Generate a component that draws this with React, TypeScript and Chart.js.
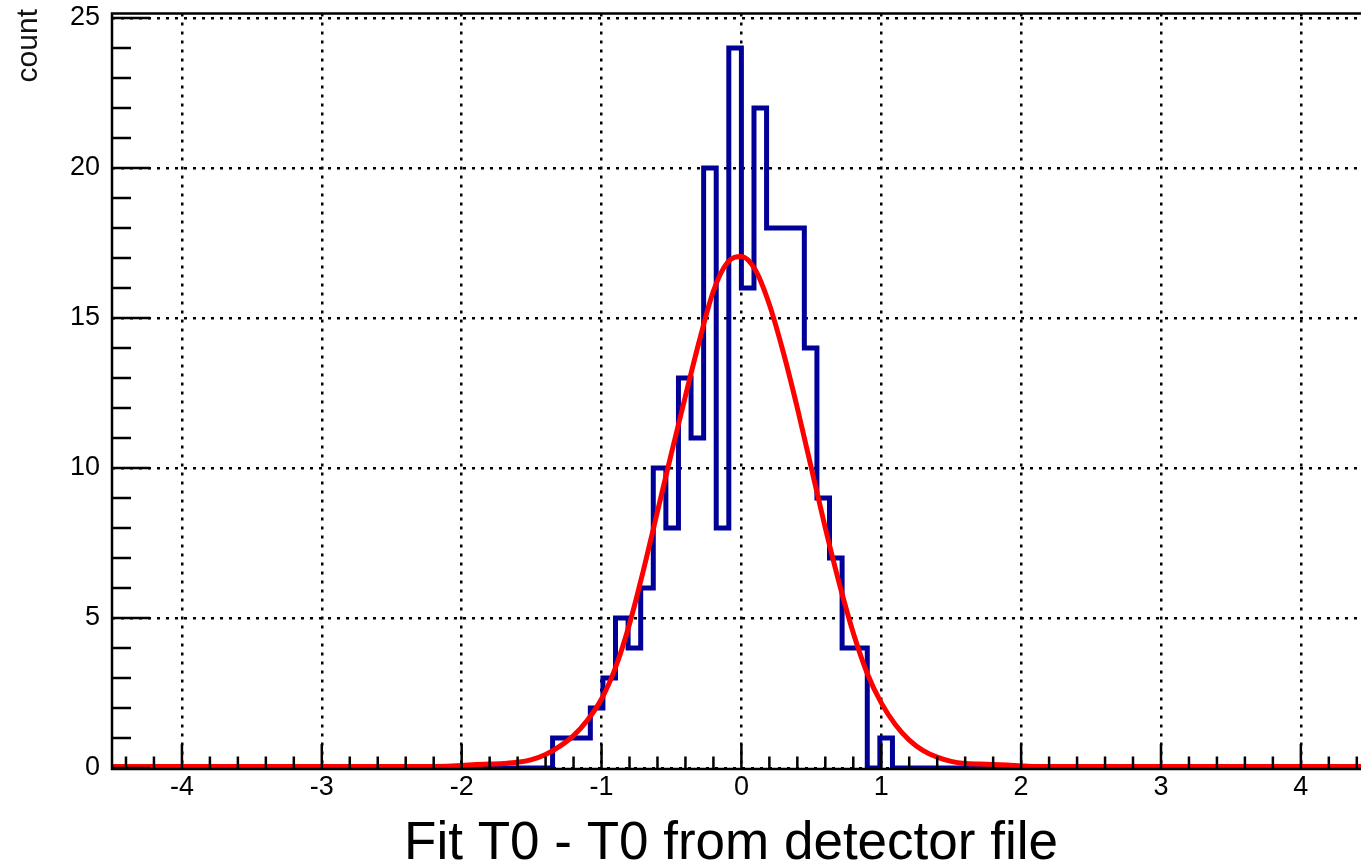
import React, { useEffect, useRef } from "react";
import { Chart, registerables } from "chart.js";

Chart.register(...registerables);

const FONT = "'Liberation Sans', Arial, Helvetica, sans-serif";

// Histogram: 100 bins on [-4.5, 4.5]; non-empty region starts at bin 34
const histMin = -4.5;
const histMax = 4.5;
const binCount = 100;
const firstFilledBin = 34;
const binCounts = [0, 1, 1, 1, 2, 3, 5, 4, 6, 10, 8, 13, 11, 20, 8, 24, 16, 22, 18, 18, 18, 14, 9, 7, 4, 4, 0, 1, 0];

// Gaussian fit curve
const fitX = [-4.5, -2.2, -2.0, -1.9, -1.8, -1.7, -1.6, -1.5, -1.4, -1.3, -1.2, -1.1, -1.0, -0.9, -0.8, -0.7, -0.6, -0.5, -0.4, -0.3, -0.2, -0.1, 0.0, 0.1, 0.2, 0.3, 0.4, 0.5, 0.6, 0.7, 0.8, 0.9, 1.0, 1.1, 1.2, 1.3, 1.4, 1.5, 1.6, 1.7, 1.8, 1.9, 2.0, 2.1, 4.5];
const fitY = [0.05, 0.05, 0.08, 0.12, 0.13, 0.15, 0.19, 0.28, 0.45, 0.72, 1.08, 1.6, 2.3, 3.35, 4.8, 6.6, 8.55, 10.5, 12.4, 14.25, 15.9, 16.85, 17.05, 16.6, 15.45, 13.85, 12.0, 10.0, 8.0, 6.15, 4.5, 3.15, 2.17, 1.45, 0.93, 0.58, 0.36, 0.22, 0.15, 0.13, 0.12, 0.1, 0.07, 0.05, 0.05];

const xTickValues = [-4, -3, -2, -1, 0, 1, 2, 3, 4];
const yTickValues = [0, 5, 10, 15, 20, 25];
const xTitle = "Fit T0 - T0 from detector file";
const yTitle = "count";

function histogramPoints() {
  const w = (histMax - histMin) / binCount;
  const pts: { x: number; y: number }[] = [];
  for (let k = 0; k < binCount; k++) {
    const idx = k - firstFilledBin;
    const c = idx >= 0 && idx < binCounts.length ? binCounts[idx] : 0;
    const lo = histMin + k * w;
    pts.push({ x: lo, y: c }, { x: lo + w, y: c });
  }
  return pts;
}

const rootStylePlugin = {
  id: "rootStyle",
  afterDatasetsDraw(chart: any) {
    const { ctx, chartArea: a, scales } = chart;
    const xs = scales.x;
    const ys = scales.y;
    const base = a.bottom + 1;
    ctx.save();
    ctx.setLineDash([]);
    ctx.strokeStyle = "#000";
    ctx.lineCap = "butt";
    ctx.lineWidth = 2.5;
    // frame (left, top, bottom)
    ctx.beginPath();
    ctx.moveTo(a.left, base + 1.25);
    ctx.lineTo(a.left, a.top);
    ctx.moveTo(a.left - 1.25, a.top);
    ctx.lineTo(a.right + 10, a.top);
    ctx.moveTo(a.left - 1.25, base);
    ctx.lineTo(a.right + 10, base);
    ctx.stroke();
    // x ticks (inside, pointing up)
    ctx.beginPath();
    for (let i = -22; i <= 22; i++) {
      const v = i / 5;
      const px = xs.getPixelForValue(v);
      if (px < a.left || px > a.right) continue;
      const len = i % 5 === 0 ? 25 : 12.5;
      ctx.moveTo(px, base);
      ctx.lineTo(px, base - len);
    }
    ctx.stroke();
    // y ticks (inside, pointing right)
    ctx.beginPath();
    for (let i = 0; i <= 25; i++) {
      const py = ys.getPixelForValue(i);
      const len = i % 5 === 0 ? 38 : 19;
      ctx.moveTo(a.left, py);
      ctx.lineTo(a.left + len, py);
    }
    ctx.stroke();
    // titles
    ctx.fillStyle = "#000";
    ctx.font = `53px ${FONT}`;
    ctx.textAlign = "center";
    ctx.textBaseline = "alphabetic";
    ctx.fillText(xTitle, 731, 859);
    ctx.translate(37, 9);
    ctx.rotate(-Math.PI / 2);
    ctx.font = `30px ${FONT}`;
    ctx.fillStyle = "#111";
    ctx.textAlign = "right";
    ctx.fillText(yTitle, 0, 0);
    ctx.restore();
  },
};

export default function App() {
  const ref = useRef<HTMLCanvasElement>(null);
  useEffect(() => {
    const canvas = ref.current;
    if (!canvas) return;
    const chart = new Chart(canvas, {
      type: "line",
      data: {
        datasets: [
          {
            label: "fit",
            data: fitX.map((x, i) => ({ x, y: fitY[i] })),
            borderColor: "#ff0000",
            borderWidth: 5,
            pointRadius: 0,
            fill: false,
            cubicInterpolationMode: "monotone",
            order: 0,
          },
          {
            label: "hist",
            data: histogramPoints(),
            borderColor: "#000099",
            borderWidth: 5,
            pointRadius: 0,
            fill: false,
            tension: 0,
            borderJoinStyle: "miter",
            order: 1,
          },
        ],
      },
      options: {
        animation: false,
        responsive: false,
        devicePixelRatio: 1,
        events: [],
        layout: { padding: { top: 13.5, left: 0, right: 0, bottom: 0 } },
        plugins: { legend: { display: false }, tooltip: { enabled: false }, title: { display: false } },
        scales: {
          x: {
            type: "linear",
            min: -4.5,
            max: 4.43,
            afterBuildTicks: (s: any) => {
              s.ticks = xTickValues.map((v) => ({ value: v }));
            },
            afterFit: (s: any) => {
              s.height = 96;
              s.paddingLeft = 0;
              s.paddingRight = 0;
            },
            grid: { color: "#000", lineWidth: 2.5, drawTicks: false, tickLength: 0 },
            border: { display: false, dash: [3, 6] },
            ticks: {
              autoSkip: false,
              maxRotation: 0,
              padding: 6,
              color: "#000",
              font: { family: FONT, size: 27, lineHeight: 1 },
              callback: (v: any) => String(v),
            },
          },
          y: {
            type: "linear",
            min: 0,
            max: 25.15,
            afterBuildTicks: (s: any) => {
              s.ticks = yTickValues.map((v) => ({ value: v }));
            },
            afterFit: (s: any) => {
              s.width = 112;
              s.paddingTop = 0;
              s.paddingBottom = 0;
            },
            grid: { color: "#000", lineWidth: 2.5, drawTicks: false, tickLength: 0 },
            border: { display: false, dash: [3, 6] },
            ticks: {
              autoSkip: false,
              padding: 12,
              color: "#000",
              font: { family: FONT, size: 27, lineHeight: 1 },
              callback: (v: any) => String(v),
            },
          },
        },
      },
      plugins: [rootStylePlugin],
    } as any);
    return () => chart.destroy();
  }, []);
  return (
    <div style={{ position: "fixed", left: 0, top: 0, width: 1361, height: 864, overflow: "hidden", background: "#fff" }}>
      <canvas ref={ref} width={1361} height={864} style={{ display: "block", width: 1361, height: 864 }} />
    </div>
  );
}
